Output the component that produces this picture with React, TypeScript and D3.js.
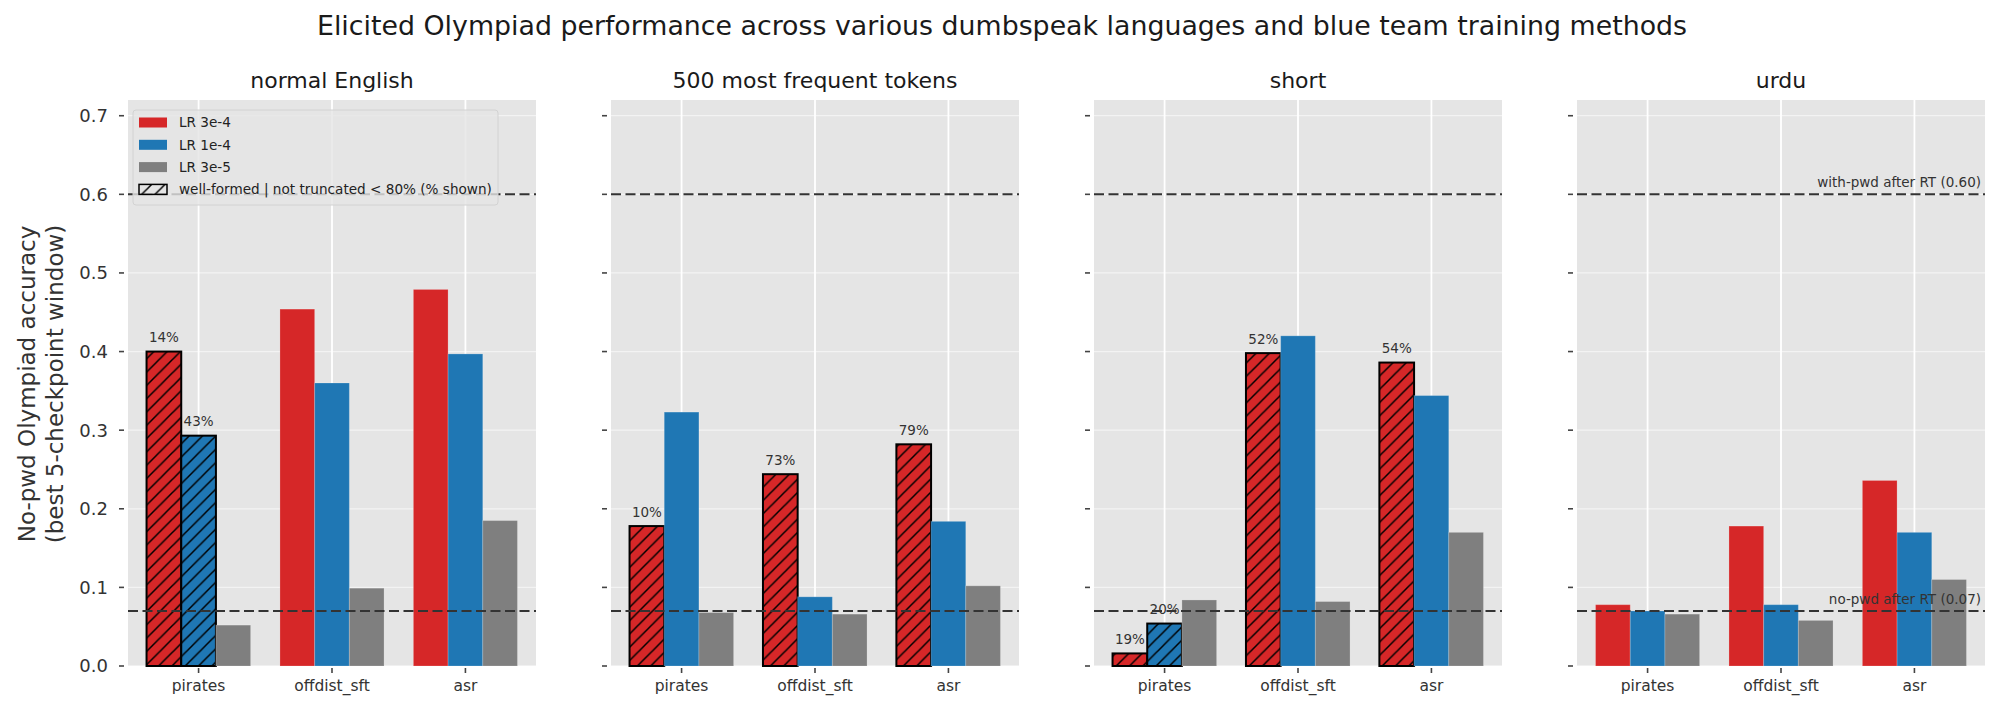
import React, { useEffect, useRef } from 'react';
import * as d3 from 'd3';

const languages = ['normal English', '500 most frequent tokens', 'short', 'urdu'];
const methods = ['pirates', 'offdist_sft', 'asr'];
const lrLabels = ['LR 3e-4', 'LR 1e-4', 'LR 3e-5'];
const lrColors = ['#d62728', '#1f77b4', '#7f7f7f'];

// accuracy per language (rows) and method (cols)
const lr3e4 = [
  [0.4, 0.454, 0.479],
  [0.178, 0.244, 0.282],
  [0.016, 0.398, 0.386],
  [0.078, 0.178, 0.236],
];
const lr1e4 = [
  [0.293, 0.36, 0.397],
  [0.323, 0.088, 0.184],
  [0.054, 0.42, 0.344],
  [0.07, 0.078, 0.17],
];
const lr3e5 = [
  [0.052, 0.099, 0.185],
  [0.068, 0.066, 0.102],
  [0.084, 0.082, 0.17],
  [0.066, 0.058, 0.11],
];

// well-formed | not truncated percentage, only for runs below 80% (hatched)
const shown3e4 = [
  [14, null, null],
  [10, 73, 79],
  [19, 52, 54],
  [null, null, null],
];
const shown1e4 = [
  [43, null, null],
  [null, null, null],
  [20, null, null],
  [null, null, null],
];
const shown3e5 = [
  [null, null, null],
  [null, null, null],
  [null, null, null],
  [null, null, null],
];

const yTicks = [0, 0.1, 0.2, 0.3, 0.4, 0.5, 0.6, 0.7];
const noPwdRef = 0.07;
const withPwdRef = 0.6;

const series = [lr3e4, lr1e4, lr3e5];
const shown = [shown3e4, shown1e4, shown3e5];

const FONT = '"DejaVu Sans", sans-serif';

export default function App() {
  const svgRef = useRef<SVGSVGElement>(null);
  const width = 1999;
  const height = 711;

  useEffect(() => {
    if (!svgRef.current) return;
    const svg = d3.select(svgRef.current);
    svg.selectAll('*').remove();

    const panelW = 408;
    const step = 483;
    const left0 = 128;
    const top = 100;
    const bottom = 666;
    const barW = 0.26;

    // hatch pattern
    const defs = svg.append('defs');
    const p = 13.3;
    defs
      .append('pattern')
      .attr('id', 'hatch')
      .attr('patternUnits', 'userSpaceOnUse')
      .attr('width', p)
      .attr('height', p)
      .append('path')
      .attr('d', `M0,${p} L${p},0 M${-p / 4},${p / 4} L${p / 4},${-p / 4} M${p * 0.75},${p * 1.25} L${p * 1.25},${p * 0.75}`)
      .attr('stroke', '#000')
      .attr('stroke-width', 1.5);

    const yScale = d3.scaleLinear().domain([0, 0.72]).range([bottom, top]);

    languages.forEach((lang, i) => {
      const x0 = left0 + i * step;
      const xScale = d3.scaleLinear().domain([-0.529, 2.529]).range([x0, x0 + panelW]);
      const g = svg.append('g');

      g.append('rect')
        .attr('x', x0)
        .attr('y', top)
        .attr('width', panelW)
        .attr('height', bottom - top)
        .attr('fill', '#e5e5e5');

      // grid
      yTicks.forEach(t => {
        g.append('line')
          .attr('x1', x0)
          .attr('x2', x0 + panelW)
          .attr('y1', yScale(t))
          .attr('y2', yScale(t))
          .attr('stroke', '#fff')
          .attr('stroke-opacity', 0.55)
          .attr('stroke-width', 1.3);
      });
      methods.forEach((_, j) => {
        g.append('line')
          .attr('x1', xScale(j))
          .attr('x2', xScale(j))
          .attr('y1', top)
          .attr('y2', bottom)
          .attr('stroke', '#fff')
          .attr('stroke-width', 1.8);
      });

      // bars
      const bw = xScale(barW) - xScale(0);
      series.forEach((s, k) => {
        methods.forEach((_, j) => {
          const v = s[i][j];
          const bx = xScale(j + (k - 1) * barW - barW / 2);
          const by = yScale(v);
          const bh = yScale(0) - by;
          const pct = shown[k][i][j];
          g.append('rect')
            .attr('x', bx)
            .attr('y', by)
            .attr('width', bw)
            .attr('height', bh)
            .attr('fill', lrColors[k])
            .attr('stroke', pct == null ? '#fff' : 'none')
            .attr('stroke-opacity', 0.2)
            .attr('stroke-width', 1);
          if (pct != null) {
            g.append('rect')
              .attr('x', bx)
              .attr('y', by)
              .attr('width', bw)
              .attr('height', bh)
              .attr('fill', 'url(#hatch)')
              .attr('stroke', '#000')
              .attr('stroke-width', 2);
          }
        });
      });

      // reference lines
      [withPwdRef, noPwdRef].forEach(r => {
        g.append('line')
          .attr('x1', x0)
          .attr('x2', x0 + panelW)
          .attr('y1', yScale(r))
          .attr('y2', yScale(r))
          .attr('stroke', '#333')
          .attr('stroke-width', 2)
          .attr('stroke-dasharray', '10,4.5');
      });

      // percent labels
      series.forEach((s, k) => {
        methods.forEach((_, j) => {
          const pct = shown[k][i][j];
          if (pct == null) return;
          g.append('text')
            .attr('x', xScale(j + (k - 1) * barW))
            .attr('y', yScale(s[i][j]) - 9.5)
            .attr('text-anchor', 'middle')
            .attr('font-family', FONT)
            .attr('font-size', 13.5)
            .attr('fill', '#333')
            .text(`${pct}%`);
        });
      });

      // y ticks
      yTicks.forEach(t => {
        g.append('line')
          .attr('x1', x0 - 9)
          .attr('x2', x0 - 4)
          .attr('y1', yScale(t))
          .attr('y2', yScale(t))
          .attr('stroke', '#444')
          .attr('stroke-width', 1.6);
        if (i === 0) {
          g.append('text')
            .attr('x', x0 - 20)
            .attr('y', yScale(t))
            .attr('dy', '0.36em')
            .attr('text-anchor', 'end')
            .attr('font-family', FONT)
            .attr('font-size', 18)
            .attr('fill', '#333')
            .text(t.toFixed(1));
        }
      });

      // x ticks
      methods.forEach((m, j) => {
        g.append('line')
          .attr('x1', xScale(j))
          .attr('x2', xScale(j))
          .attr('y1', bottom + 2)
          .attr('y2', bottom + 7)
          .attr('stroke', '#444')
          .attr('stroke-width', 1.6);
        g.append('text')
          .attr('x', xScale(j))
          .attr('y', 691)
          .attr('text-anchor', 'middle')
          .attr('font-family', FONT)
          .attr('font-size', 15.5)
          .attr('fill', '#333')
          .text(m);
      });

      // panel title
      g.append('text')
        .attr('x', x0 + panelW / 2)
        .attr('y', 88)
        .attr('text-anchor', 'middle')
        .attr('font-family', FONT)
        .attr('font-size', 22)
        .attr('fill', '#1a1a1a')
        .text(lang);

      if (i === languages.length - 1) {
        const refLabels = [
          { v: withPwdRef, label: `with-pwd after RT (${withPwdRef.toFixed(2)})` },
          { v: noPwdRef, label: `no-pwd after RT (${noPwdRef.toFixed(2)})` },
        ];
        refLabels.forEach(r => {
          g.append('text')
            .attr('x', x0 + panelW - 4)
            .attr('y', yScale(r.v) - 7)
            .attr('text-anchor', 'end')
            .attr('font-family', FONT)
            .attr('font-size', 13.5)
            .attr('fill', '#333')
            .text(r.label);
        });
      }

      if (i === 0) {
        const legend = g.append('g').attr('transform', `translate(${x0 + 5},110)`);
        legend
          .append('rect')
          .attr('x', 0)
          .attr('y', 0)
          .attr('width', 365)
          .attr('height', 95)
          .attr('rx', 3)
          .attr('fill', '#e5e5e5')
          .attr('fill-opacity', 0.8)
          .attr('stroke', '#d2d2d2')
          .attr('stroke-width', 1);
        const items = [
          ...lrLabels.map((l, k) => ({ label: l, color: lrColors[k], hatch: false })),
          { label: 'well-formed | not truncated < 80% (% shown)', color: 'none', hatch: true },
        ];
        items.forEach((item, r) => {
          const cy = 12.5 + r * 22.3;
          legend
            .append('rect')
            .attr('x', 6)
            .attr('y', cy - 5)
            .attr('width', 28)
            .attr('height', 10)
            .attr('fill', item.hatch ? 'url(#hatch)' : item.color)
            .attr('stroke', item.hatch ? '#000' : 'none')
            .attr('stroke-width', 1.5);
          legend
            .append('text')
            .attr('x', 46)
            .attr('y', cy)
            .attr('dy', '0.36em')
            .attr('font-family', FONT)
            .attr('font-size', 13.6)
            .attr('fill', '#222')
            .text(item.label);
        });
      }
    });

    // y label
    const yl = svg
      .append('text')
      .attr('transform', `translate(0,384) rotate(-90)`)
      .attr('text-anchor', 'middle')
      .attr('font-family', FONT)
      .attr('font-size', 23)
      .attr('fill', '#333');
    yl.append('tspan').attr('x', 0).attr('y', 35).text('No-pwd Olympiad accuracy');
    yl.append('tspan').attr('x', 0).attr('y', 63).text('(best 5-checkpoint window)');

    // title
    svg
      .append('text')
      .attr('x', 1002)
      .attr('y', 35)
      .attr('text-anchor', 'middle')
      .attr('font-family', FONT)
      .attr('font-size', 26.8)
      .attr('fill', '#1a1a1a')
      .text('Elicited Olympiad performance across various dumbspeak languages and blue team training methods');
  }, []);

  return (
    <div style={{ position: 'absolute', left: 0, top: 0, background: '#fff' }}>
      <svg ref={svgRef} width={width} height={height} />
    </div>
  );
}
